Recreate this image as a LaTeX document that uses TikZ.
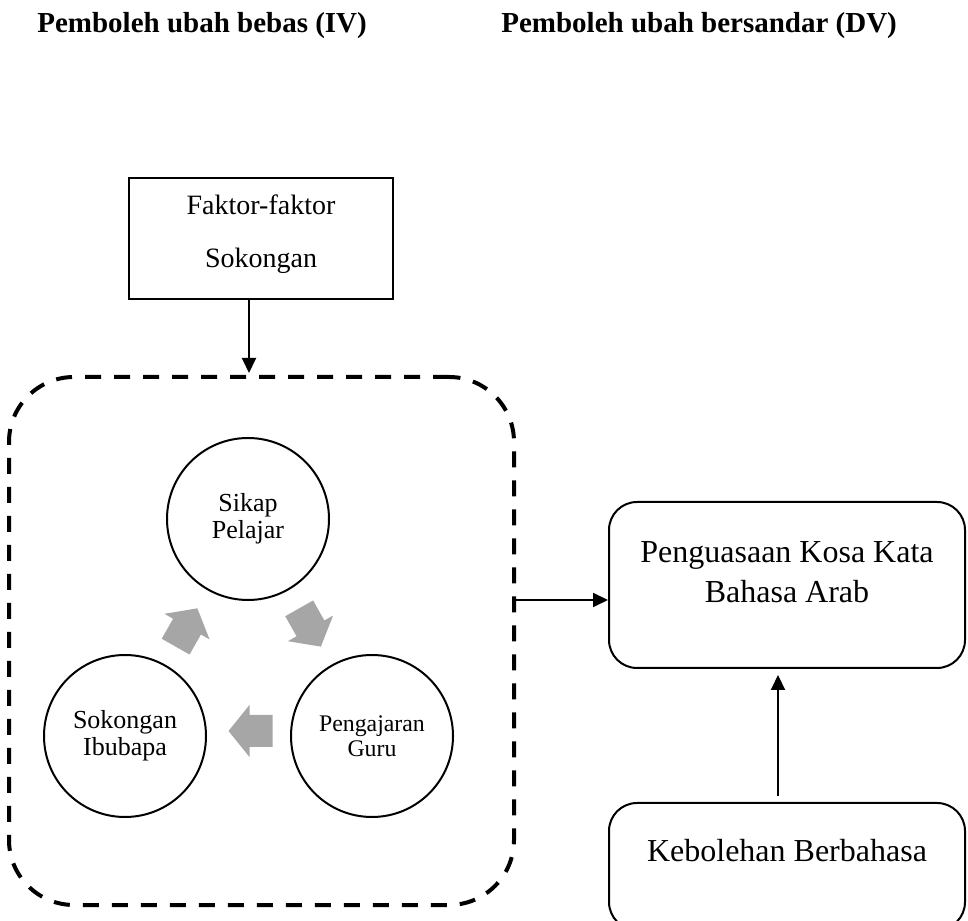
\documentclass[tikz,border=0pt]{standalone}
\usepackage{fontspec}
\setmainfont{Liberation Serif}
\usepackage{tikz}
\usetikzlibrary{arrows.meta,calc}
\usepackage{xcolor}
\definecolor{cyclegrey}{RGB}{166,166,166}

\begin{document}
\begin{tikzpicture}[>={Triangle[length=15pt,width=14pt]},x=1pt,y=1pt,line width=2pt]
  \tikzstyle{title}=[anchor=base west,font=\fontsize{29}{35}\selectfont\bfseries]
  \tikzstyle{factor}=[draw,rectangle,inner sep=0pt,minimum width=264pt,minimum height=121pt,
                      align=center,font=\fontsize{28}{53}\selectfont,text height=65pt,text depth=6pt]
  \tikzstyle{group}=[draw,rectangle,line width=4pt,dash pattern=on 16pt off 13pt,
                     rounded corners=65pt,minimum width=505pt,minimum height=528pt]
  \tikzstyle{every circle}=[draw,circle,inner sep=0pt,minimum size=162pt,align=center,
                            font=\fontsize{26}{27}\selectfont]
  \tikzstyle{outcome}=[draw,rectangle,rounded corners=28pt,inner sep=0pt,minimum width=356pt,
                       align=center,font=\fontsize{32}{40}\selectfont]
  \tikzset{cyclearrow/.pic={
    \fill[cyclegrey] (-22,-16) -- (1,-16) -- (1,-26) -- (22,0) -- (1,26) -- (1,16) -- (-22,16) -- cycle;}}

  \useasboundingbox (0,0) rectangle (968,920);
  \clip (0,0) rectangle (968,920);

  \node[title] (iv title) at (33,887)  {Pemboleh ubah bebas (IV)};
  \node[title] (dv title) at (497,887) {Pemboleh ubah bersandar (DV)};

  \node[factor] (fs) at (261,681.5) {Faktor-faktor\\Sokongan};
  \node[group]  (iv) at (261.5,279) {};

  \node[every circle] (sp) at (248,401) {Sikap\\Pelajar};
  \node[every circle] (ib) at (125,184) {Sokongan\\Ibubapa};
  \node[every circle,font=\fontsize{23.8}{25.5}\selectfont] (pg) at (372,184) {Pengajaran\\Guru};

  \pic[rotate=60.45]  at ($(ib)!0.5!(sp)$) {cyclearrow};
  \pic[rotate=-60.45] at ($(sp)!0.5!(pg)$) {cyclearrow};
  \pic[rotate=180]    at ($(pg)!0.5!(ib)+(2,5)$) {cyclearrow};

  \node[outcome,minimum height=166pt,text height=42pt,text depth=6pt] (pk) at (787,335)
       {Penguasaan Kosa Kata\\Bahasa Arab};
  \node[outcome,minimum height=127pt,text height=22pt,text depth=31pt] (kb) at (787,53.5)
       {Kebolehan Berbahasa};

  \coordinate (pk in) at ([yshift=-15pt]pk.west);
  \draw[->,shorten >=2pt] ([xshift=-12pt]fs.south) -- ([xshift=-12pt]fs.south |- iv.north);
  \draw[->] (iv.east |- pk in) -- (pk in);
  \draw[->,shorten <=6pt,shorten >=6pt] ([xshift=-9pt]kb.north) -- ([xshift=-9pt]pk.south);
\end{tikzpicture}
\end{document}
